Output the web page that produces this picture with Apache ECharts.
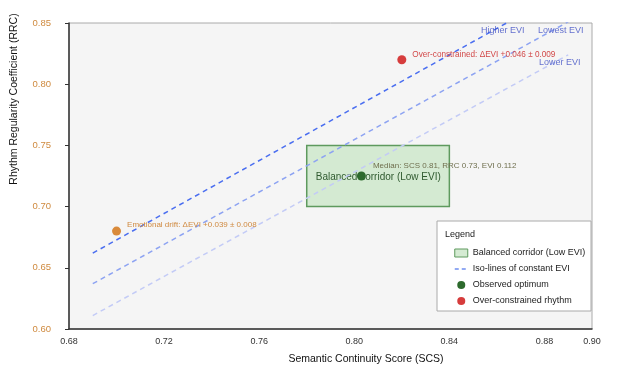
<!DOCTYPE html>
<html>
<head>
<meta charset="utf-8">
<script src="https://cdn.jsdelivr.net/npm/echarts@6/dist/echarts.min.js"></script>
<style>html,body{margin:0;padding:0;background:#fff}#c{width:619px;height:372px}</style>
</head>
<body>
<div id="c"></div>
<script>
// ---- data ----
const xRange = [0.68, 0.90];
const yRange = [0.60, 0.85];
const corridor = [[0.78, 0.84, 0.70, 0.75]]; // x0, x1, y0, y1
const corridorName = 'Balanced corridor (Low EVI)';
const optimum = [[0.803, 0.725]];
const optimumLabel = 'Median: SCS 0.81, RRC 0.73, EVI 0.112';
const overConstrained = [[0.82, 0.82]];
const overLabel = 'Over-constrained: ΔEVI +0.046 ± 0.009';
const drift = [[0.70, 0.68]];
const driftLabel = 'Emotional drift: ΔEVI +0.039 ± 0.008';
const isoHigher = [[0.69, 0.662], [0.89, 0.878]];
const isoMid = [[0.69, 0.637], [0.89, 0.851]];
const isoLow = [[0.69, 0.611], [0.89, 0.824]];
const isoLabelNames = ['Higher EVI', 'Lowest EVI', 'Lower EVI'];
const isoLabelX = [0.8533, 0.8773, 0.8777];
const isoLabelY = [0.8435, 0.8435, 0.8181];
const isoName = 'Iso-lines of constant EVI';

const FONT = 'Liberation Sans, Arial, sans-serif';
const chart = echarts.init(document.getElementById('c'), null, {renderer: 'canvas'});

function isoSeries(data, color) {
  return {
    type: 'line', name: isoName, data: data, symbol: 'none', z: 3, silent: true,
    lineStyle: {color: color, width: 1.5, type: [5, 4]}, itemStyle: {color: color}
  };
}

const option = {
  animation: false,
  textStyle: {fontFamily: FONT},
  grid: {left: 69, right: 27, top: 23, bottom: 43, show: true, backgroundColor: '#f5f5f5', borderColor: '#aaaaaa', borderWidth: 1},
  xAxis: {
    type: 'value', min: xRange[0], max: xRange[1], interval: 0.04,
    axisLine: {lineStyle: {color: '#333', width: 1.5}},
    axisTick: {show: false},
    splitLine: {show: false},
    axisLabel: {fontSize: 9, color: '#333', margin: 8, formatter: v => v.toFixed(2)}
  },
  yAxis: {
    type: 'value', min: yRange[0], max: yRange[1], interval: 0.05,
    axisLine: {show: true, lineStyle: {color: '#333', width: 1.5}},
    axisTick: {show: true, length: 4, lineStyle: {color: '#333'}},
    splitLine: {show: false},
    axisLabel: {fontSize: 9.5, color: '#cf8a3f', margin: 18, formatter: v => v.toFixed(2)}
  },
  legend: {
    orient: 'vertical', left: 449, top: 243, itemWidth: 13, itemHeight: 8, itemGap: 6, z: 10,
    textStyle: {fontSize: 9, color: '#222', fontFamily: FONT, lineHeight: 10},
    selectedMode: false,
    data: [
      {name: corridorName, icon: 'rect', itemStyle: {color: '#d5ebd3', borderColor: '#5e9a5e', borderWidth: 1}},
      {name: isoName, itemStyle: {opacity: 0}, lineStyle: {color: '#6f8ef0', type: [4, 3], width: 1.5}},
      {name: 'Observed optimum', icon: 'circle'},
      {name: 'Over-constrained rhythm', icon: 'circle'}
    ]
  },
  graphic: [
    {type: 'rect', z: 5, shape: {x: 437, y: 221, width: 154, height: 90}, style: {fill: '#ffffff', stroke: '#aaaaaa', lineWidth: 1}},
    {type: 'text', z: 6, x: 445, y: 235, style: {text: 'Legend', fontSize: 9, fill: '#222', fontFamily: FONT, verticalAlign: 'middle'}},
    {type: 'text', z: 6, x: 366, y: 359, style: {text: 'Semantic Continuity Score (SCS)', fontSize: 10.5, fill: '#111', fontFamily: FONT, align: 'center', verticalAlign: 'middle'}},
    {type: 'text', z: 6, x: 14, y: 99, rotation: Math.PI / 2, style: {text: 'Rhythm Regularity Coefficient (RRC)', fontSize: 10.5, fill: '#111', fontFamily: FONT, align: 'center', verticalAlign: 'middle'}}
  ],
  series: [
    {
      type: 'custom', name: corridorName, z: 1, silent: true,
      itemStyle: {color: '#d5ebd3', borderColor: '#5e9a5e'},
      encode: {x: [0, 1], y: [2, 3]},
      data: corridor,
      renderItem: function (params, api) {
        const p1 = api.coord([api.value(0), api.value(3)]);
        const p2 = api.coord([api.value(1), api.value(2)]);
        return {
          type: 'group',
          children: [
            {type: 'rect', shape: {x: p1[0], y: p1[1], width: p2[0] - p1[0], height: p2[1] - p1[1]},
             style: {fill: 'rgba(200,230,197,0.75)', stroke: '#5e9a5e', lineWidth: 1.5}},
            {type: 'text', x: p1[0] + 9, y: (p1[1] + p2[1]) / 2 + 1,
             style: {text: corridorName, fontSize: 10, fill: '#2f5a2f', fontFamily: FONT, verticalAlign: 'middle'}}
          ]
        };
      }
    },
    isoSeries(isoHigher, '#4a6ef0'),
    isoSeries(isoMid, '#8da3f2'),
    isoSeries(isoLow, '#c3cbf6'),
    {
      type: 'scatter', name: 'isoLabels', symbolSize: 0, z: 4, silent: true,
      data: isoLabelNames.map((n, i) => ({value: [isoLabelX[i], isoLabelY[i]], name: n})),
      label: {show: true, position: 'right', distance: 0, formatter: p => p.name, fontSize: 9, color: '#3f4fc4', fontFamily: FONT}
    },
    {
      type: 'scatter', name: 'Observed optimum', data: optimum, symbolSize: 9, z: 5,
      itemStyle: {color: '#2d6a2d', opacity: 1},
      label: {show: true, position: 'right', offset: [2, -10], formatter: optimumLabel, fontSize: 8, color: '#6f6f4e', fontFamily: FONT}
    },
    {
      type: 'scatter', name: 'Over-constrained rhythm', data: overConstrained, symbolSize: 9, z: 5,
      itemStyle: {color: '#d63c3c', opacity: 1},
      label: {show: true, position: 'right', offset: [1, -5], formatter: overLabel, fontSize: 8.2, color: '#d24848', fontFamily: FONT}
    },
    {
      type: 'scatter', name: 'Emotional drift', data: drift, symbolSize: 9, z: 5,
      itemStyle: {color: '#d98a3a', opacity: 1},
      label: {show: true, position: 'right', offset: [1, -6], formatter: driftLabel, fontSize: 8, color: '#d08a40', fontFamily: FONT}
    }
  ]
};
chart.setOption(option);
</script>
</body>
</html>
